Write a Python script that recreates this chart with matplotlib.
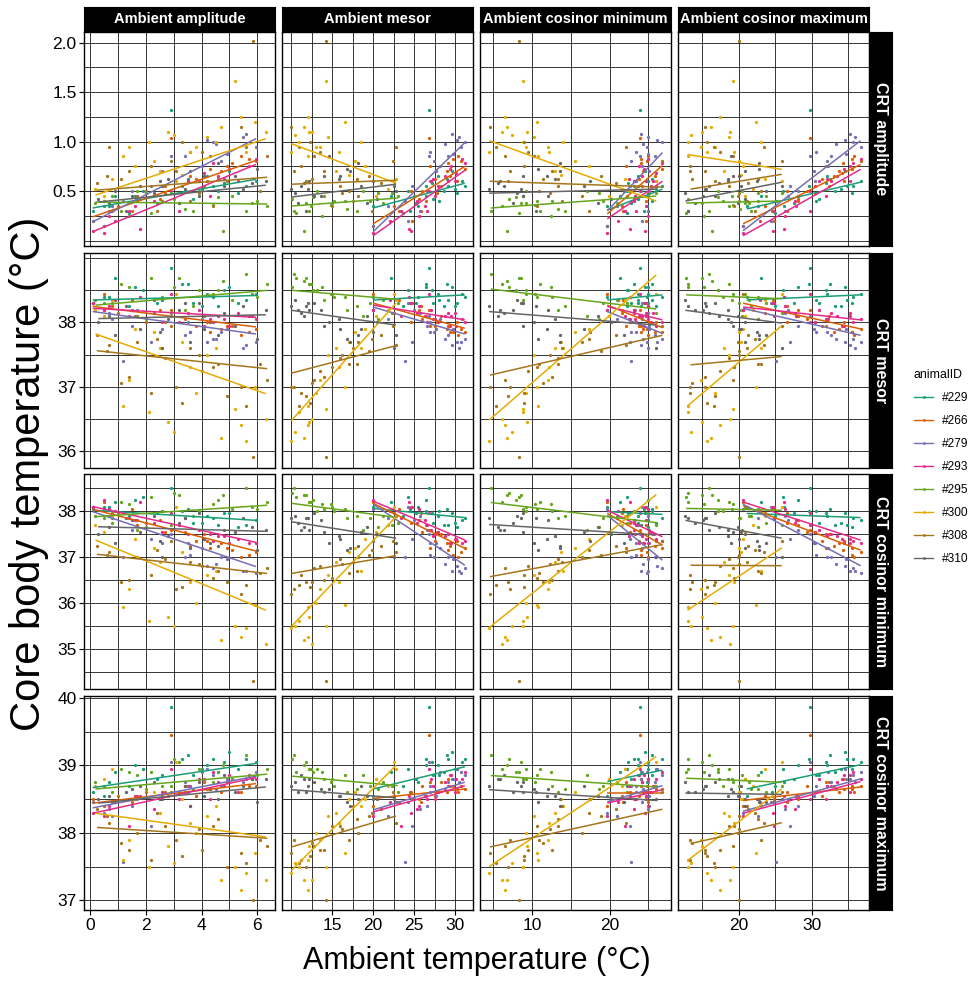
import numpy as np
import matplotlib
matplotlib.use('Agg')
import matplotlib.pyplot as plt
from matplotlib.lines import Line2D

plt.rcParams['font.family'] = ['Liberation Sans', 'DejaVu Sans']

animals = ['#229', '#266', '#279', '#293', '#295', '#300', '#308', '#310']
colors = ['#1B9E77', '#D95F02', '#7570B3', '#E7298A', '#66A61E', '#E6AB02', '#A6761D', '#666666']
col_names = ['Ambient amplitude', 'Ambient mesor', 'Ambient cosinor minimum', 'Ambient cosinor maximum']
row_names = ['CRT amplitude', 'CRT mesor', 'CRT cosinor minimum', 'CRT cosinor maximum']

# one row per day:
# ambient amplitude, mesor, cosinor min, cosinor max | CRT amplitude, mesor, cosinor min, cosinor max
days_229 = [
    (0.1, 24.5, 24.4, 24.6, 0.30, 38.30, 38.05, 38.60),
    (0.5, 20.0, 19.7, 21.1, 0.35, 38.40, 38.10, 38.55),
    (0.9, 22.2, 21.3, 23.1, 0.45, 38.70, 38.20, 38.90),
    (1.4, 23.6, 22.2, 25.0, 0.28, 38.25, 37.90, 38.70),
    (1.9, 24.2, 22.3, 26.1, 0.50, 38.50, 38.30, 38.95),
    (2.4, 25.2, 22.8, 27.6, 0.38, 38.30, 37.95, 38.80),
    (2.9, 26.8, 23.9, 29.8, 1.32, 38.85, 38.50, 39.87),
    (3.3, 26.4, 23.1, 29.7, 0.55, 38.60, 38.00, 39.10),
    (3.7, 27.3, 23.6, 31.0, 0.42, 38.30, 37.75, 38.85),
    (4.2, 27.9, 23.7, 32.1, 0.65, 38.45, 37.90, 39.00),
    (4.6, 28.6, 24.0, 33.2, 0.50, 38.25, 37.70, 38.90),
    (5.0, 29.6, 24.6, 34.6, 0.70, 38.55, 37.95, 39.20),
    (5.3, 30.2, 24.9, 35.5, 0.48, 38.30, 37.65, 38.95),
    (4.4, 31.2, 26.8, 35.6, 0.55, 38.40, 37.85, 39.10),
    (5.95, 30.8, 24.9, 36.7, 0.60, 38.45, 37.80, 39.05),
    (0.7, 25.5, 24.8, 26.2, 0.35, 38.40, 38.10, 38.75),
    (1.6, 26.5, 24.9, 28.1, 0.45, 38.55, 38.25, 39.00),
    (2.6, 28.0, 25.4, 30.6, 0.40, 38.35, 38.00, 38.85),
    (3.5, 29.0, 25.5, 32.5, 0.62, 38.60, 38.05, 39.15),
    (4.0, 30.0, 26.0, 34.0, 0.52, 38.25, 37.75, 38.95),
    (4.8, 27.2, 22.4, 32.0, 0.58, 38.50, 37.95, 39.05),
    (5.6, 29.2, 23.6, 34.8, 0.55, 38.35, 37.70, 39.10),
]
days_266 = [
    (0.1, 24.8, 24.7, 24.9, 0.20, 38.30, 38.10, 38.50),
    (0.5, 20.0, 19.7, 20.6, 0.15, 38.45, 38.20, 38.40),
    (1.0, 22.6, 21.6, 23.6, 0.35, 38.15, 37.95, 38.55),
    (1.5, 23.2, 21.7, 24.7, 0.30, 38.35, 38.05, 38.45),
    (2.0, 24.6, 22.6, 26.6, 0.50, 38.00, 37.75, 38.60),
    (2.5, 25.6, 23.1, 28.1, 0.42, 38.20, 37.80, 38.50),
    (2.9, 26.8, 23.9, 29.8, 1.04, 38.20, 37.60, 39.45),
    (3.4, 26.0, 22.6, 29.4, 0.50, 38.05, 37.55, 38.70),
    (3.8, 27.6, 23.8, 31.4, 0.62, 37.95, 37.35, 38.55),
    (4.1, 28.3, 24.2, 32.4, 0.55, 38.10, 37.50, 38.75),
    (4.7, 29.0, 24.3, 33.7, 0.70, 37.90, 37.30, 38.60),
    (5.1, 29.2, 24.1, 34.3, 0.78, 37.95, 37.15, 38.80),
    (5.4, 30.4, 25.0, 35.8, 0.85, 37.80, 37.00, 38.60),
    (4.3, 31.2, 26.8, 35.5, 0.72, 37.85, 37.20, 38.65),
    (5.95, 30.7, 24.8, 36.7, 0.80, 37.90, 37.10, 38.70),
    (0.8, 25.8, 25.0, 26.6, 0.30, 38.25, 37.95, 38.45),
    (1.7, 26.4, 24.7, 28.1, 0.40, 38.10, 37.70, 38.55),
    (2.7, 27.8, 25.1, 30.5, 0.48, 38.00, 37.55, 38.60),
    (3.6, 29.4, 25.8, 33.0, 0.65, 37.85, 37.25, 38.70),
    (4.2, 30.2, 26.0, 34.4, 0.60, 38.00, 37.35, 38.65),
    (4.9, 27.0, 22.1, 31.9, 0.75, 37.95, 37.20, 38.75),
    (5.7, 29.8, 24.1, 35.5, 0.82, 37.85, 37.05, 38.70),
]
days_279 = [
    (0.1, 24.3, 24.2, 24.4, 0.20, 38.30, 38.10, 38.45),
    (0.5, 20.0, 19.7, 20.6, 0.15, 38.20, 38.05, 38.30),
    (0.8, 21.8, 21.0, 22.6, 0.35, 38.05, 37.85, 38.25),
    (1.2, 23.9, 22.7, 25.1, 0.40, 37.40, 37.00, 37.57),
    (1.7, 25.0, 23.3, 26.7, 0.45, 38.20, 37.80, 38.50),
    (2.2, 24.8, 22.6, 27.0, 0.55, 37.70, 37.40, 38.10),
    (2.9, 26.8, 23.9, 29.8, 0.85, 38.10, 37.50, 39.05),
    (3.5, 26.9, 23.4, 30.4, 0.60, 38.00, 37.30, 38.60),
    (3.6, 27.0, 23.4, 30.6, 0.90, 37.85, 37.05, 38.70),
    (4.0, 28.2, 24.2, 32.2, 0.75, 38.05, 37.20, 38.90),
    (4.5, 28.8, 24.3, 33.3, 0.98, 37.75, 36.85, 38.65),
    (4.9, 29.8, 24.9, 34.7, 0.88, 37.90, 36.95, 38.80),
    (5.5, 30.5, 25.0, 36.0, 1.05, 37.60, 36.70, 38.75),
    (4.4, 31.2, 26.8, 35.6, 1.00, 37.75, 36.75, 38.85),
    (5.95, 30.75, 24.8, 36.7, 0.95, 37.70, 36.65, 38.90),
    (0.7, 25.7, 25.0, 26.4, 0.30, 38.15, 37.90, 38.35),
    (1.5, 26.6, 25.1, 28.1, 0.50, 37.95, 37.60, 38.40),
    (2.6, 27.7, 25.1, 30.3, 0.70, 37.90, 37.30, 38.55),
    (3.4, 29.2, 25.8, 32.6, 0.85, 37.80, 37.00, 38.75),
    (4.2, 30.3, 26.1, 34.5, 1.02, 37.70, 36.80, 38.95),
    (4.7, 27.4, 22.7, 32.1, 0.80, 37.85, 37.00, 38.70),
    (5.6, 29.6, 24.0, 35.2, 1.08, 37.65, 36.70, 38.80),
]
days_293 = [
    (0.1, 24.6, 24.5, 24.7, 0.10, 38.30, 38.10, 38.30),
    (0.5, 20.0, 19.7, 20.6, 0.08, 38.20, 38.25, 38.25),
    (0.9, 22.0, 21.1, 22.9, 0.20, 38.35, 38.00, 38.45),
    (1.4, 23.4, 22.0, 24.8, 0.30, 38.10, 37.85, 38.10),
    (1.8, 24.4, 22.6, 26.2, 0.12, 38.40, 38.20, 38.55),
    (2.3, 25.4, 23.1, 27.7, 0.40, 38.15, 37.75, 38.35),
    (2.9, 26.8, 23.9, 29.8, 0.50, 38.45, 37.95, 38.95),
    (3.2, 26.6, 23.4, 29.8, 0.30, 38.00, 37.70, 38.50),
    (3.9, 27.1, 23.2, 31.0, 0.60, 38.20, 37.60, 38.80),
    (4.3, 27.6, 23.3, 31.9, 0.45, 38.05, 37.50, 38.50),
    (4.6, 28.8, 24.2, 33.4, 0.65, 38.10, 37.45, 38.75),
    (5.0, 29.4, 24.4, 34.4, 0.72, 37.95, 37.30, 38.85),
    (5.3, 30.0, 24.7, 35.3, 0.60, 38.15, 37.40, 38.60),
    (4.4, 31.2, 26.8, 35.6, 0.78, 38.00, 37.35, 38.90),
    (5.95, 30.9, 25.0, 36.7, 0.82, 38.05, 37.30, 38.80),
    (0.7, 25.6, 24.9, 26.3, 0.25, 38.25, 38.05, 38.40),
    (1.6, 26.3, 24.7, 27.9, 0.35, 38.10, 37.80, 38.55),
    (2.6, 27.9, 25.3, 30.5, 0.55, 38.00, 37.55, 38.60),
    (3.5, 29.1, 25.6, 32.6, 0.60, 38.15, 37.50, 38.70),
    (4.1, 30.1, 26.0, 34.2, 0.68, 37.95, 37.40, 38.80),
    (4.8, 27.3, 22.5, 32.1, 0.62, 38.05, 37.45, 38.70),
    (5.7, 29.5, 23.8, 35.2, 0.75, 38.10, 37.30, 38.85),
]
days_295 = [
    (0.2, 21.2, 21.0, 21.4, 0.38, 38.35, 37.90, 38.75),
    (0.8, 23.0, 22.2, 23.8, 0.45, 38.30, 37.75, 38.60),
    (1.1, 12.2, 11.1, 13.0, 0.30, 38.60, 38.20, 38.95),
    (1.7, 18.8, 17.1, 20.5, 0.50, 38.10, 37.60, 38.85),
    (2.2, 10.6, 8.4, 12.8, 0.28, 38.70, 38.30, 38.90),
    (2.6, 15.2, 12.6, 17.8, 0.40, 38.40, 38.00, 38.70),
    (3.0, 10.1, 7.1, 13.1, 0.42, 38.55, 38.40, 39.10),
    (3.4, 16.8, 13.4, 20.2, 0.32, 38.20, 37.85, 38.60),
    (3.9, 13.2, 9.3, 17.1, 0.50, 38.50, 38.00, 38.95),
    (4.4, 14.8, 10.4, 19.2, 0.36, 38.45, 38.15, 38.75),
    (4.75, 11.6, 6.8, 16.4, 0.10, 38.65, 38.35, 39.00),
    (5.1, 14.0, 8.9, 19.1, 0.45, 38.35, 38.05, 38.80),
    (5.6, 10.3, 4.7, 15.9, 0.30, 38.75, 38.50, 39.15),
    (6.0, 16.6, 10.6, 22.6, 0.40, 38.40, 38.05, 38.85),
    (6.35, 12.4, 6.1, 18.7, 0.35, 38.60, 38.20, 38.95),
    (2.9, 22.3, 26.0, 25.9, 0.48, 38.15, 37.70, 38.70),
    (0.5, 19.6, 19.1, 20.1, 0.40, 38.30, 37.85, 38.70),
    (1.4, 13.8, 12.4, 15.2, 0.25, 38.55, 38.15, 38.90),
    (2.0, 20.6, 18.6, 22.6, 0.48, 38.05, 37.65, 38.65),
    (3.2, 11.8, 8.6, 15.0, 0.38, 38.70, 38.35, 39.05),
    (3.7, 18.0, 14.3, 21.7, 0.30, 38.25, 37.90, 38.65),
    (4.6, 12.6, 8.0, 17.2, 0.44, 38.50, 38.25, 38.90),
    (5.8, 15.0, 9.2, 20.8, 0.38, 38.45, 38.10, 38.80),
]
days_300 = [
    (0.2, 21.8, 21.6, 22.0, 0.52, 38.20, 37.70, 38.70),
    (0.8, 22.8, 22.0, 23.6, 0.62, 38.35, 37.90, 38.95),
    (1.2, 12.0, 10.8, 13.0, 0.85, 36.70, 35.90, 37.60),
    (1.6, 19.0, 17.4, 20.6, 0.75, 37.90, 37.40, 38.50),
    (2.1, 11.0, 8.9, 13.1, 1.00, 36.60, 35.60, 37.50),
    (2.5, 15.5, 13.0, 18.0, 0.70, 37.60, 36.90, 38.30),
    (3.0, 10.5, 7.5, 13.5, 1.07, 36.30, 35.50, 37.55),
    (3.3, 17.0, 13.7, 20.3, 0.66, 37.70, 37.10, 38.50),
    (3.8, 13.0, 9.2, 16.8, 0.95, 36.90, 36.00, 38.00),
    (4.2, 14.5, 10.3, 18.7, 1.05, 37.50, 36.60, 38.25),
    (4.7, 11.5, 6.8, 16.2, 1.15, 36.20, 35.20, 37.30),
    (5.2, 14.2, 8.8, 19.2, 1.61, 36.65, 35.50, 37.50),
    (5.6, 10.0, 4.5, 15.6, 0.90, 36.15, 35.45, 37.40),
    (5.9, 16.5, 10.6, 22.4, 1.20, 37.00, 35.95, 37.70),
    (6.3, 12.5, 6.2, 18.8, 1.10, 36.50, 35.10, 37.30),
    (3.1, 22.6, 26.0, 25.9, 0.60, 38.45, 38.10, 39.05),
    (0.5, 20.4, 19.9, 20.9, 0.45, 38.10, 37.55, 38.80),
    (1.4, 13.5, 12.1, 14.9, 0.95, 37.10, 36.30, 37.90),
    (2.3, 17.8, 15.5, 20.1, 0.80, 37.85, 37.20, 38.60),
    (2.8, 12.2, 9.4, 15.0, 1.10, 36.45, 35.70, 37.80),
    (3.6, 15.8, 12.2, 19.4, 0.90, 37.30, 36.45, 38.15),
    (4.5, 18.5, 14.0, 23.0, 1.00, 37.60, 36.70, 38.40),
    (5.4, 12.0, 6.6, 17.4, 1.25, 36.40, 35.25, 37.15),
]
days_308 = [
    (0.25, 21.0, 20.8, 21.3, 0.58, 37.80, 37.25, 38.35),
    (0.7, 22.8, 22.1, 23.5, 0.95, 37.65, 37.10, 38.15),
    (1.1, 12.5, 11.4, 13.6, 0.62, 37.05, 36.45, 37.85),
    (1.7, 18.2, 16.5, 19.9, 0.45, 37.70, 37.00, 38.00),
    (2.2, 11.2, 9.0, 13.4, 0.75, 36.90, 36.60, 37.60),
    (2.7, 16.0, 13.3, 18.7, 0.55, 37.45, 36.95, 38.10),
    (3.1, 10.3, 7.2, 13.4, 0.70, 37.00, 36.30, 37.90),
    (3.6, 17.5, 13.9, 21.1, 0.40, 37.60, 36.90, 38.40),
    (4.0, 13.5, 9.5, 17.5, 0.90, 37.25, 36.80, 37.75),
    (4.4, 15.0, 10.6, 19.4, 0.35, 37.30, 36.55, 38.10),
    (4.9, 11.8, 6.9, 16.7, 0.60, 36.85, 36.45, 37.50),
    (5.85, 14.3, 8.4, 20.0, 2.02, 35.90, 34.30, 37.00),
    (5.4, 10.0, 4.6, 15.4, 1.15, 37.00, 36.20, 37.70),
    (6.1, 17.0, 10.9, 23.1, 0.50, 37.35, 36.65, 37.90),
    (6.35, 12.8, 6.5, 19.2, 0.85, 37.10, 36.75, 37.80),
    (2.9, 22.4, 26.8, 25.9, 0.80, 37.95, 37.35, 38.60),
    (0.6, 19.5, 18.9, 20.1, 0.65, 37.55, 37.05, 38.25),
    (1.4, 14.0, 12.6, 15.4, 0.70, 37.15, 36.50, 37.75),
    (2.4, 19.8, 17.4, 22.2, 0.30, 37.75, 37.15, 38.30),
    (3.3, 12.3, 9.0, 15.6, 1.00, 36.75, 36.35, 37.65),
    (3.9, 16.2, 12.3, 20.1, 0.48, 37.50, 36.85, 38.05),
    (4.6, 18.0, 13.4, 22.6, 0.62, 37.35, 36.70, 38.20),
    (5.6, 11.0, 5.4, 16.6, 0.95, 36.70, 36.40, 37.55),
]
days_310 = [
    (0.3, 20.5, 20.2, 20.8, 0.42, 38.00, 37.50, 38.50),
    (0.9, 22.8, 21.9, 23.7, 0.50, 37.80, 37.30, 38.45),
    (1.3, 11.8, 10.5, 13.1, 0.30, 38.25, 37.85, 38.60),
    (1.8, 18.5, 16.7, 20.3, 0.55, 37.90, 37.55, 38.70),
    (2.3, 10.4, 8.1, 12.7, 0.48, 38.35, 37.90, 38.75),
    (2.8, 15.8, 13.0, 18.6, 0.62, 38.05, 37.45, 38.55),
    (3.2, 10.8, 7.6, 14.0, 0.38, 38.20, 37.75, 38.60),
    (3.6, 17.2, 13.6, 20.8, 0.70, 37.70, 37.20, 38.40),
    (3.9, 12.8, 8.9, 16.7, 0.45, 38.30, 37.95, 38.75),
    (4.3, 14.6, 10.3, 18.9, 0.85, 38.00, 37.30, 38.65),
    (4.8, 11.2, 6.4, 16.0, 0.55, 38.15, 37.60, 38.85),
    (5.2, 14.0, 8.8, 19.2, 0.65, 37.95, 37.55, 38.60),
    (5.5, 10.0, 4.5, 15.5, 0.52, 38.25, 37.85, 38.70),
    (6.0, 16.8, 10.8, 22.8, 0.72, 37.75, 37.15, 38.45),
    (6.3, 12.2, 5.9, 18.5, 0.60, 38.20, 37.60, 38.80),
    (2.6, 22.5, 26.0, 25.9, 0.55, 37.60, 37.00, 38.50),
    (0.7, 19.2, 18.5, 19.9, 0.38, 38.10, 37.65, 38.55),
    (1.5, 13.6, 12.1, 15.1, 0.45, 38.20, 37.80, 38.65),
    (2.5, 20.0, 17.5, 22.5, 0.60, 37.85, 37.35, 38.50),
    (3.4, 12.0, 8.6, 15.4, 0.52, 38.30, 37.85, 38.70),
    (4.1, 16.0, 11.9, 20.1, 0.65, 37.90, 37.40, 38.55),
    (4.6, 18.2, 13.6, 22.8, 0.78, 37.80, 37.25, 38.50),
    (5.8, 11.5, 5.7, 17.3, 0.58, 38.10, 37.65, 38.80),
]

# fitted lm lines: CRT value at the low / high end of each animal's ambient range
# (ambient amplitude, mesor, cosinor min, cosinor max)
fit_crt_amplitude = {
    '#229': [(0.33, 0.62), (0.33, 0.58), (0.31, 0.52), (0.32, 0.59)],
    '#266': [(0.24, 0.81), (0.17, 0.75), (0.27, 0.76), (0.17, 0.77)],
    '#279': [(0.19, 1.03), (0.09, 0.99), (0.30, 0.89), (0.10, 1.01)],
    '#293': [(0.09, 0.77), (0.05, 0.71), (0.22, 0.60), (0.05, 0.72)],
    '#295': [(0.39, 0.37), (0.35, 0.43), (0.33, 0.45), (0.38, 0.40)],
    '#300': [(0.46, 1.03), (0.98, 0.58), (1.01, 0.40), (0.87, 0.72)],
    '#308': [(0.51, 0.64), (0.57, 0.61), (0.60, 0.54), (0.52, 0.67)],
    '#310': [(0.39, 0.56), (0.44, 0.57), (0.48, 0.52), (0.40, 0.59)],
}
fit_crt_mesor = {
    '#229': [(38.35, 38.42), (38.35, 38.43), (38.35, 38.43), (38.35, 38.43)],
    '#266': [(38.25, 37.93), (38.30, 37.91), (38.27, 37.92), (38.30, 37.90)],
    '#279': [(38.17, 37.82), (38.24, 37.82), (38.17, 37.83), (38.22, 37.80)],
    '#293': [(38.22, 38.08), (38.27, 38.04), (38.25, 38.04), (38.24, 38.04)],
    '#295': [(38.27, 38.50), (38.50, 38.36), (38.52, 38.21), (38.43, 38.37)],
    '#300': [(37.82, 36.89), (36.47, 38.30), (36.48, 38.74), (36.70, 37.95)],
    '#308': [(37.56, 37.28), (37.21, 37.64), (37.18, 37.80), (37.34, 37.47)],
    '#310': [(38.06, 38.12), (38.19, 37.96), (38.17, 37.96), (38.19, 37.99)],
}
fit_crt_min = {
    '#229': [(38.02, 37.80), (38.06, 37.86), (37.99, 37.93), (37.95, 37.86)],
    '#266': [(38.04, 37.13), (38.17, 37.19), (37.95, 37.26), (38.12, 37.15)],
    '#279': [(37.99, 36.79), (38.15, 36.82), (37.91, 36.93), (38.15, 36.81)],
    '#293': [(38.10, 37.32), (38.22, 37.37), (38.02, 37.44), (38.20, 37.37)],
    '#295': [(37.88, 38.13), (38.17, 37.86), (38.19, 37.75), (38.06, 38.02)],
    '#300': [(37.37, 35.84), (35.48, 37.88), (35.46, 38.36), (35.84, 37.20)],
    '#308': [(37.06, 36.64), (36.64, 37.03), (36.57, 37.27), (36.82, 36.81)],
    '#310': [(37.66, 37.56), (37.77, 37.41), (37.71, 37.48), (37.80, 37.41)],
}
fit_crt_max = {
    '#229': [(38.67, 39.03), (38.65, 38.98), (38.76, 38.93), (38.65, 39.01)],
    '#266': [(38.44, 38.73), (38.51, 38.65), (38.59, 38.59), (38.48, 38.68)],
    '#279': [(38.37, 38.84), (38.34, 38.75), (38.46, 38.70), (38.32, 38.80)],
    '#293': [(38.29, 38.82), (38.31, 38.70), (38.44, 38.64), (38.29, 38.76)],
    '#295': [(38.65, 38.87), (38.84, 38.70), (38.85, 38.68), (38.81, 38.75)],
    '#300': [(38.29, 37.94), (37.44, 39.00), (37.50, 39.13), (37.59, 38.65)],
    '#308': [(38.08, 37.92), (37.79, 38.25), (37.79, 38.35), (37.84, 38.15)],
    '#310': [(38.44, 38.68), (38.64, 38.52), (38.64, 38.48), (38.59, 38.57)],
}

# axis scales (free x per column, free y per row)
xlims = [(-0.2, 6.63), (8.9, 32.2), (3.36, 27.9), (11.73, 37.85)]
x_labels = [[0, 2, 4, 6], [15, 20, 25, 30], [10, 20], [20, 30]]
x_grid = [[0, 1, 2, 3, 4, 5, 6], [10, 12.5, 15, 17.5, 20, 22.5, 25, 27.5, 30],
          [5, 10, 15, 20, 25], [15, 20, 25, 30, 35]]
ylims = [(-0.056, 2.11), (35.74, 39.08), (34.12, 38.8), (36.85, 40.03)]
y_labels = [[0.5, 1.0, 1.5, 2.0], [36, 37, 38], [35, 36, 37, 38], [37, 38, 39, 40]]
y_fmt = ['{:.1f}', '{:.0f}', '{:.0f}', '{:.0f}']
y_grid = [[0, 0.25, 0.5, 0.75, 1, 1.25, 1.5, 1.75, 2.0],
          [36, 36.5, 37, 37.5, 38, 38.5, 39],
          [34.5, 35, 35.5, 36, 36.5, 37, 37.5, 38, 38.5],
          [37, 37.5, 38, 38.5, 39, 39.5, 40]]

all_days = [np.array(d) for d in [days_229, days_266, days_279, days_293,
                                  days_295, days_300, days_308, days_310]]
fits = [fit_crt_amplitude, fit_crt_mesor, fit_crt_min, fit_crt_max]

W, H = 974.0, 981.0
fig = plt.figure(figsize=(W / 100, H / 100), dpi=100)


def frac(x, y, w, h):
    return [x / W, 1 - (y + h) / H, w / W, h / H]


col_left = [84.3 + 198.0 * i for i in range(4)]
row_top = [31.7 + 221.4 * j for j in range(4)]
pw, ph = 190.7, 214.5

for j in range(4):
    for i in range(4):
        ax = fig.add_axes(frac(col_left[i], row_top[j], pw, ph))
        ax.set_xlim(xlims[i])
        ax.set_ylim(ylims[j])
        ax.set_xticks(x_labels[i])
        ax.set_xticks([v for v in x_grid[i] if v not in x_labels[i]], minor=True)
        ax.set_yticks(y_labels[j])
        ax.set_yticks([v for v in y_grid[j] if v not in y_labels[j]], minor=True)
        ax.grid(which='both', color='black', lw=0.55)
        ax.set_axisbelow(True)
        ax.tick_params(which='minor', length=0)
        ax.tick_params(which='major', length=3.5, width=0.8, color='black',
                       labelsize=12.5, pad=2)
        if i == 0:
            ax.set_yticklabels([y_fmt[j].format(v) for v in y_labels[j]])
        else:
            ax.tick_params(axis='y', which='major', length=0, labelleft=False)
        if j == 3:
            ax.set_xticklabels([str(v) for v in x_labels[i]])
        else:
            ax.tick_params(axis='x', which='major', length=0, labelbottom=False)
        for sp in ax.spines.values():
            sp.set_linewidth(1.0)
            sp.set_zorder(5)

        for k, arr in enumerate(all_days):
            ax.scatter(arr[:, i], arr[:, 4 + j], s=5.5, color=colors[k], lw=0, zorder=3)
        for k, arr in enumerate(all_days):
            y0, y1 = fits[j][animals[k]][i]
            ax.plot([arr[:, i].min(), arr[:, i].max()], [y0, y1],
                    color=colors[k], lw=1.1, zorder=4, solid_capstyle='butt')

# facet strips
for i in range(4):
    sax = fig.add_axes(frac(col_left[i], 7.3, pw, 23.6))
    sax.set_facecolor('black')
    sax.set_xticks([])
    sax.set_yticks([])
    sax.text(0.5, 0.5, col_names[i], color='white', fontweight='bold', fontsize=10.5,
             ha='center', va='center', transform=sax.transAxes, clip_on=True)
for j in range(4):
    sax = fig.add_axes(frac(869.0, row_top[j], 23.3, ph))
    sax.set_facecolor('black')
    sax.set_xticks([])
    sax.set_yticks([])
    sax.text(0.5, 0.5, row_names[j], color='white', fontweight='bold', fontsize=11.5,
             ha='center', va='center', rotation=-90, transform=sax.transAxes, clip_on=True)

fig.text(476.7 / W, 1 - 961 / H, 'Ambient temperature (°C)', ha='center', va='center', fontsize=22)
fig.text(29 / W, 1 - 474 / H, 'Core body temperature (°C)', ha='center', va='center',
         rotation=90, fontsize=30)

handles = [Line2D([0], [0], color=c, lw=1.0, marker='o', markersize=2, markeredgewidth=0)
           for c in colors]
fig.legend(handles, animals, title='animalID', loc='upper left',
           bbox_to_anchor=(914 / W, 1 - 369 / H), frameon=False, fontsize=8.6,
           title_fontsize=8.8, handlelength=1.6, handletextpad=0.7, labelspacing=0.92,
           borderpad=0, borderaxespad=0, alignment='left')

fig.savefig('out.png', dpi=100)
